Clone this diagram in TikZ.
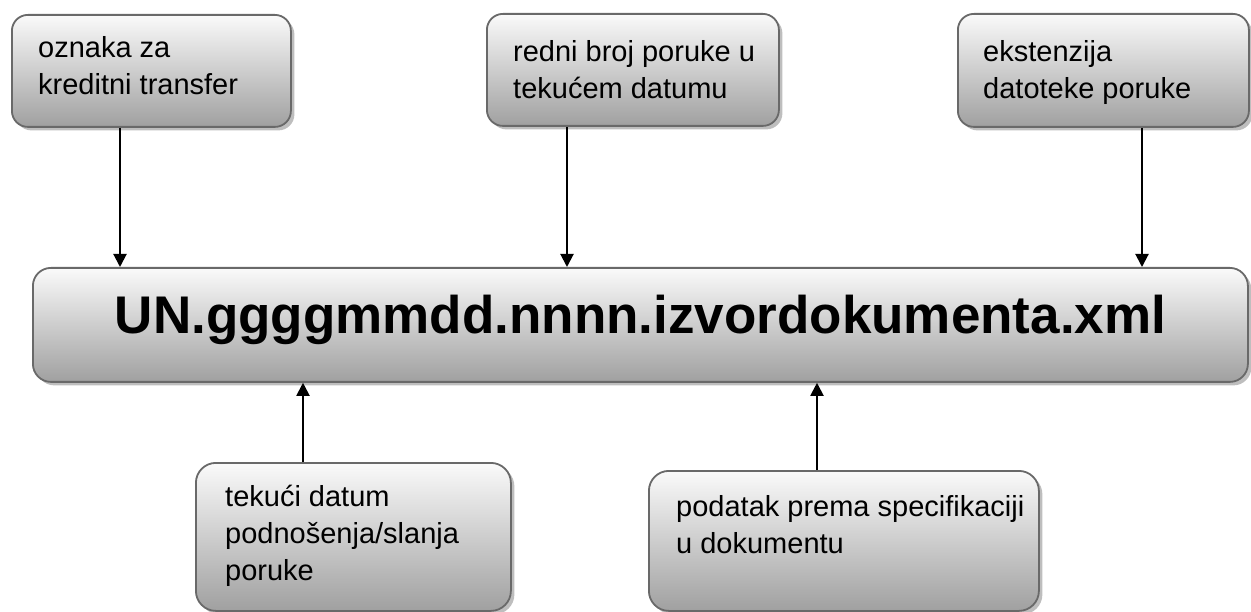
\documentclass[tikz,border=0pt]{standalone}
\usepackage{fontspec}
\setmainfont{Liberation Sans}
\usetikzlibrary{arrows.meta,shadows}
\definecolor{boxline}{RGB}{105,105,105}
\definecolor{gtop}{RGB}{250,250,250}
\definecolor{gbot}{RGB}{160,160,160}
\definecolor{shad}{RGB}{190,190,190}
\begin{document}
\begin{tikzpicture}[x=1pt,y=-1pt,
  box/.style={draw=boxline, line width=1.8pt, rounded corners=16pt,
    top color=gtop, bottom color=gbot, anchor=north west, inner sep=0pt,
    drop shadow={shadow xshift=3.5pt, shadow yshift=-3.5pt, fill=shad, opacity=1}},
  lbl/.style={anchor=base west, inner sep=0pt, font=\fontsize{29}{37}\selectfont},
  arr/.style={line width=2pt, -{Triangle[length=13pt,width=13pt]}}]
\useasboundingbox (0,0) rectangle (1251,612);
% boxes
\node[box, minimum width=279pt, minimum height=112pt] (b1) at (11,14) {};
\node[box, minimum width=292pt, minimum height=112pt] (b2) at (486,13) {};
\node[box, minimum width=291pt, minimum height=113pt] (b3) at (957,13) {};
\node[box, minimum width=1215pt, minimum height=114pt, rounded corners=18pt,
  font=\fontsize{53}{60}\selectfont\bfseries, text height=29pt, text depth=11pt]
  (m) at (32,267) {UN.ggggmmdd.nnnn.izvordokumenta.xml};
\node[box, minimum width=315pt, minimum height=148pt, rounded corners=20pt] (b4) at (195,462) {};
\node[box, minimum width=390pt, minimum height=140pt, rounded corners=20pt] (b5) at (648,470) {};
% texts
\node[lbl] (t1) at (38,58) {\vtop{\hbox{oznaka za}\hbox{kreditni transfer}}};
\node[lbl] (t2) at (513,62) {\vtop{\hbox{redni broj poruke u}\hbox{tekućem datumu}}};
\node[lbl] (t3) at (983,62) {\vtop{\hbox{ekstenzija}\hbox{datoteke poruke}}};
\node[lbl] (t4) at (225,506) {\vtop{\hbox{tekući datum}\hbox{podnošenja/slanja}\hbox{poruke}}};
\node[lbl] (t5) at (676,516) {\vtop{\hbox{podatak prema specifikaciji}\hbox{u dokumentu}}};
% arrow columns
\coordinate (x1) at (120,0);
\coordinate (x2) at (567,0);
\coordinate (x3) at (1142,0);
\coordinate (x4) at (303,0);
\coordinate (x5) at (817,0);
\draw[arr] (b1.south -| x1) -- (m.north -| x1);
\draw[arr] (b2.south -| x2) -- (m.north -| x2);
\draw[arr] (b3.south -| x3) -- (m.north -| x3);
\draw[arr] (b4.north -| x4) -- (m.south -| x4);
\draw[arr] (b5.north -| x5) -- (m.south -| x5);
\end{tikzpicture}
\end{document}
